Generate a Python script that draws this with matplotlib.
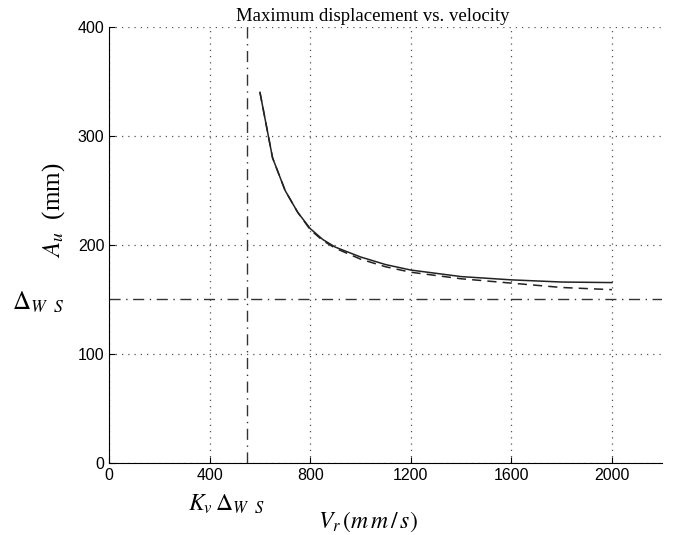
import matplotlib
matplotlib.use("Agg")
import matplotlib.pyplot as plt

# velocity (mm/s) and max displacement (mm)
vel = [600, 650, 700, 750, 800, 850, 900, 1000, 1100, 1200, 1400, 1600, 1800, 2000]
disp_model = [340, 280, 250, 230, 215, 205, 198, 189, 182, 177, 171, 168, 166, 165.5]
disp_sim = [340, 280, 250, 230, 214, 204, 197, 187, 180, 175, 169, 165, 161, 159]

kv_dws = 550
dws = 150

xticks = [0, 400, 800, 1200, 1600, 2000]
yticks = [0, 100, 200, 300, 400]

plt.rcParams['mathtext.fontset'] = 'stix'

fig = plt.figure(figsize=(6.82, 5.35), dpi=100)
ax = fig.add_axes([0.16, 0.1346, 0.811, 0.815])

ax.plot(vel, disp_model, color='#222222', lw=1.1)
ax.plot(vel, disp_sim, color='#222222', lw=1.1, ls=(0, (6, 4)))
ax.axvline(kv_dws, color='#333333', lw=1.0, ls=(0, (8, 4, 1, 4)))
ax.axhline(dws, color='#333333', lw=1.0, ls=(0, (8, 4, 1, 4)))

ax.set_xlim(0, 2200)
ax.set_ylim(0, 400)
ax.set_xticks(xticks)
ax.set_yticks(yticks)
ax.tick_params(direction='in', labelsize=11.5, length=4)
for lab in ax.get_xticklabels() + ax.get_yticklabels():
    lab.set_family('Liberation Sans')
ax.grid(True, ls=(0, (1, 4)), color='#555555', lw=0.9)
ax.spines['top'].set_visible(False)
ax.spines['right'].set_visible(False)

ax.set_title('Maximum displacement vs. velocity', family='Liberation Serif',
             fontsize=13.5, pad=4, x=0.476)
ax.set_ylabel(r'$A_u$  (mm)', family='Liberation Serif', fontsize=18)
ax.yaxis.set_label_coords(-0.076, 0.58)
ax.set_xlabel(r'$V_r\,(m\,m\,/\,s)$', fontsize=17)
ax.xaxis.set_label_coords(0.467, -0.107)

ax.text(kv_dws - 85, -27, r'$K_v\,\Delta_{W\ \ S}$', fontsize=17,
        ha='center', va='top')
ax.text(-385, dws - 3, r'$\Delta_{W\ \ S}$', fontsize=18, ha='left', va='center')

fig.savefig('out.png', dpi=100)
